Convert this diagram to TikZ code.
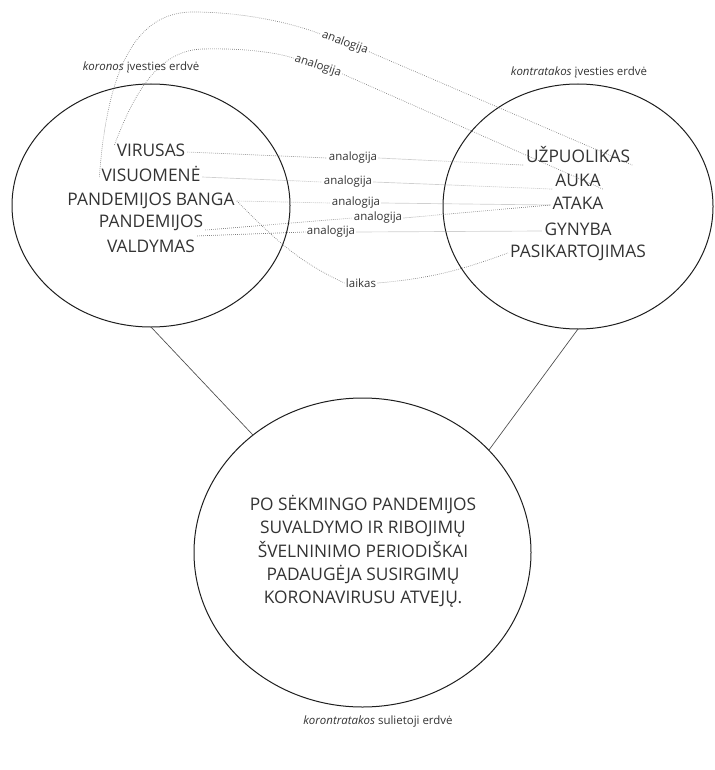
\documentclass[tikz,border=0pt]{standalone}
\usepackage{fontspec}
\setmainfont{Open Sans}
\usetikzlibrary{shapes.geometric,calc}
\definecolor{ink}{HTML}{333333}
\definecolor{rim}{HTML}{1E1E1E}
\definecolor{linkgray}{HTML}{7A7A7A}
\begin{document}
\begin{tikzpicture}[x=0.75pt,y=-0.75pt,
  item/.style={font=\fontsize{13}{15}\selectfont, text=ink, inner sep=1.5pt,
               text height=0.72em, text depth=0pt},
  tag/.style={font=\fontsize{8.6}{10}\selectfont, text=ink, inner sep=1pt},
  link/.style={draw=linkgray, densely dotted, line width=0.5pt},
  space/.style={draw=rim, line width=0.75pt, ellipse, inner sep=0pt, outer sep=0pt},
  bridge/.style={draw=black!70, line width=0.5pt}]
\useasboundingbox (0,0) rectangle (714,770);

% the three mental spaces
\node[space, minimum width=208.5pt, minimum height=182.25pt] (L) at (151,205.5) {};
\node[space, minimum width=202.5pt, minimum height=183.75pt] (R) at (578,206.5) {};
\node[space, minimum width=252.75pt, minimum height=231.75pt] (B) at (362.5,552.5) {};

\draw[bridge] (L.south) -- (B.133);
\draw[bridge] (R.south) -- (B.39);

% space captions
\node[tag] (capL) at (141,67) {\textit{koronos} įvesties erdvė};
\node[tag] (capR) at (579,72) {\textit{kontratakos} įvesties erdvė};
\node[tag] (capB) at (378,722) {\textit{korontratakos} sulietoji erdvė};

% input space 1
\node[item] (vir) at (151,152) {VIRUSAS};
\node[item] (vis) at (151,177) {VISUOMENĖ};
\node[item] (pb)  at (151,201) {PANDEMIJOS BANGA};
\node[item] (pan) at (151,223) {PANDEMIJOS};
\node[item] (val) at (151,248) {VALDYMAS};

% input space 2
\node[item] (uzp) at (578,158) {UŽPUOLIKAS};
\node[item] (auk) at (578,182) {AUKA};
\node[item] (ata) at (578,205) {ATAKA};
\node[item] (gyn) at (578,231) {GYNYBA};
\node[item] (pas) at (578,253) {PASIKARTOJIMAS};

% blended space
\node[item, align=center, text height=, text depth=,
      font=\fontsize{13}{17.5}\selectfont] (blend) at (363,551.5)
  {PO SĖKMINGO PANDEMIJOS\\SUVALDYMO IR RIBOJIMŲ\\ŠVELNINIMO PERIODIŠKAI\\PADAUGĖJA SUSIRGIMŲ\\KORONAVIRUSU ATVEJŲ.};

% cross-space mappings
\node[tag] (a1) at (353,158) {analogija};
\node[tag] (a2) at (348,182) {analogija};
\node[tag] (a3) at (356,203) {analogija};
\node[tag] (a4) at (378,218) {analogija};
\node[tag] (a5) at (331,232) {analogija};
\node[tag] (lk) at (361,283) {laikas};
\node[tag, rotate=-20] (oa) at (345,43) {analogija};
\node[tag, rotate=-18] (ia) at (318,66) {analogija};

\draw[link] (vir.east) -- (a1.west);
\draw[link] (a1.east) -- (uzp.south west);
\draw[link] (vis.east) -- (a2.west);
\draw[link] (a2.east) -- (auk.south west);
\draw[link] (pb.east) -- (a3.west);
\draw[link] (a3.east) -- (ata.west);
\draw[link] (pan.south east) -- (a4.west);
\draw[link] (a4.east) -- (ata.west);
\draw[link] ($(val.north east)+(0,-5)$) -- (a5.west);
\draw[link] (a5.east) -- (gyn.west);
\draw[link] (pb.east) to[out=-45,in=155] (lk.west);
\draw[link] (lk.east) to[out=5,in=200] (pas.west);

\draw[link] (vis.west) .. controls (108,60) and (140,12) .. (193,12)
                       .. controls (240,12) and (290,22) .. (oa.west);
\draw[link] (oa.east) -- (uzp.south east);
\draw[link] (vir.north west) .. controls (135,90) and (160,50) .. (203,49)
                             .. controls (240,48) and (275,52) .. (ia.west);
\draw[link] (ia.east) -- (auk.south east);
\end{tikzpicture}
\end{document}
